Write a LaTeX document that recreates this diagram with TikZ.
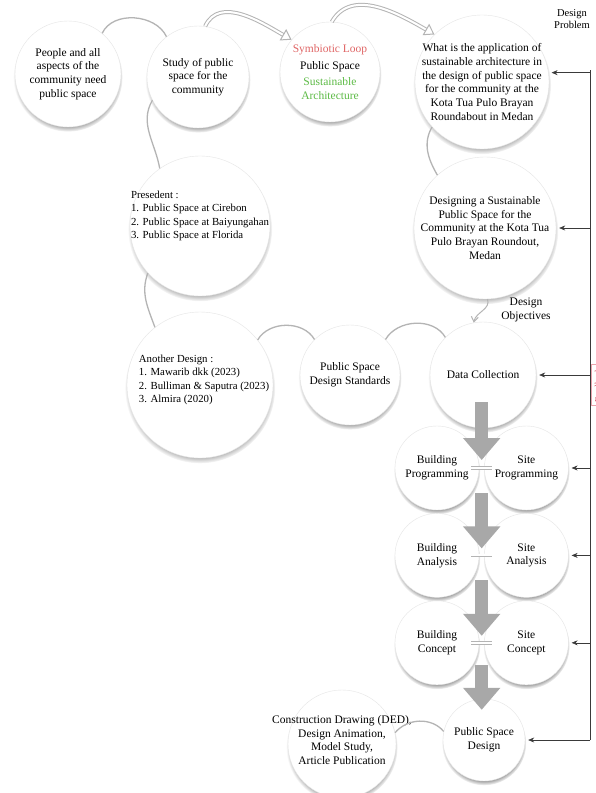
\documentclass[tikz,border=0pt]{standalone}
\usepackage{fontspec}
\setmainfont{Liberation Serif}
\usetikzlibrary{
  arrows.meta,
  positioning,
  shadows,
  calc
}
\definecolor{fpLoop}{HTML}{E06666}
\definecolor{fpSust}{HTML}{5DBB46}
\definecolor{fpArc}{HTML}{B4B4B4}
\definecolor{fpBlock}{HTML}{A8A8A8}
\definecolor{fpLine}{HTML}{3A3A3A}
\definecolor{fpBack}{HTML}{D44A5A}
\tikzset{
  bubble/.style={
    circle, draw=black!10, fill=white, inner sep=-4pt, align=center,
    font=\fontsize{11.5}{13.8}\selectfont,
    circular drop shadow={shadow xshift=0pt, shadow yshift=-3pt, shadow scale=1.03}
  },
  listtext/.style={align=left, font=\fontsize{10.8}{13.5}\selectfont, inner sep=0pt},
  tag/.style={align=center, font=\fontsize{11.5}{13.8}\selectfont, inner sep=0pt},
  arcline/.style={draw=fpArc, line width=1.3pt},
  looparrow/.style={draw=fpArc, double=white, double distance=2pt, line width=1pt,
    -{Triangle[open, length=10pt, width=13pt]}},
  objarrow/.style={draw=fpArc, line width=1pt, -{Straight Barb[length=5pt, width=7pt]}},
  blockarrow/.style={draw=fpBlock, line width=13pt, -{Triangle[length=22pt, width=36pt]}},
  pairlink/.style={draw=fpArc, double=white, double distance=2pt, line width=0.7pt},
  fbline/.style={draw=fpLine, line width=1pt},
  fbarrow/.style={draw=fpLine, line width=0.6pt, shorten >=3pt, -{Stealth[length=6pt, width=5pt]}}
}
\begin{document}
\begin{tikzpicture}[x=1pt, y=-1pt, node distance=5pt]
  \fill[white] (0,0) rectangle (596,793);
  \useasboundingbox (0,0) rectangle (596,793);

  \node[bubble, minimum size=106pt] (need) at (68,74) {People and all\\aspects of the\\community need\\public space};
  \node[bubble, minimum size=102pt] (study) at (198,77) {Study of public\\space for the\\community};
  \node[bubble, minimum size=100pt] (loop) at (330,72)
    {\textcolor{fpLoop}{Symbiotic Loop}\\[3pt]Public Space\\[3pt]\textcolor{fpSust}{Sustainable}\\\textcolor{fpSust}{Architecture}};
  \node[bubble, minimum size=134pt] (problem) at (482,82)
    {What is the application of\\sustainable architecture in\\the design of public space\\for the community at the\\Kota Tua Pulo Brayan\\Roundabout in Medan};
  \node[tag, font=\fontsize{10.5}{12.5}\selectfont] (dp) at (572,19) {Design\\Problem};

  \node[bubble, minimum size=140pt] (prec) at (200,226) {};
  \node[listtext] (preclist) at ([yshift=10pt]prec.center)
    {Presedent :\\1. Public Space at Cirebon\\2. Public Space at Baiyungahan\\3. Public Space at Florida};
  \node[bubble, minimum size=142pt] (design) at (485,228)
    {Designing a Sustainable\\Public Space for the\\Community at the Kota Tua\\Pulo Brayan Roundout,\\Medan};
  \node[tag] (obj) at (526,310) {Design\\Objectives};

  \node[bubble, minimum size=146pt] (other) at (200,385) {};
  \node[listtext] (otherlist) at ([xshift=4pt, yshift=5pt]other.center)
    {Another Design :\\1. Mawarib dkk (2023)\\2. Bulliman \& Saputra (2023)\\3. Almira (2020)};
  \node[bubble, minimum size=100pt] (std) at (350,375) {Public Space\\Design Standards};
  \node[bubble, minimum size=106pt] (data) at (483,375) {Data Collection};

  \node[bubble, minimum size=84pt] (bprog) at (437,468) {Building\\Programming};
  \node[bubble, minimum size=84pt, right=of bprog] (sprog) {Site\\Programming};
  \node[bubble, minimum size=84pt, below=3pt of bprog] (bana) {Building\\Analysis};
  \node[bubble, minimum size=84pt, below=3pt of sprog] (sana) {Site\\Analysis};
  \node[bubble, minimum size=84pt, below=3pt of bana] (bcon) {Building\\Concept};
  \node[bubble, minimum size=84pt, below=3pt of sana] (scon) {Site\\Concept};

  \node[bubble, minimum size=82pt] (psd) at (484,740) {Public Space\\Design};
  \node[bubble, minimum size=108pt] (out) at (342,744) {};
  \node[tag] (outtext) at ([yshift=4pt]out.center)
    {Construction Drawing (DED),\\Design Animation,\\Model Study,\\Article Publication};

  \draw[arcline] (need.50) to[out=65, in=115] (study.128);
  \draw[looparrow] (study.82) to[out=65, in=150] (loop.140);
  \draw[looparrow] (loop.88) to[out=60, in=150] (problem.135);
  \draw[arcline] (study.207) to[out=240, in=100] (prec.125);
  \draw[arcline] (prec.222) to[out=250, in=110] (other.128);
  \draw[arcline] (other.38) to[out=60, in=120] (std.135);
  \draw[arcline] (std.45) to[out=60, in=120] (data.135);
  \draw[arcline] (problem.222) to[out=240, in=120] (design.132);
  \draw[objarrow] (design.272) to[out=-70, in=80] (data.100);
  \draw[arcline] (out.12) to[out=50, in=130] (psd.168);

  \draw[pairlink] ([xshift=-8pt]bprog.east) -- ([xshift=8pt]sprog.west);
  \draw[pairlink] ([xshift=-8pt]bana.east) -- ([xshift=8pt]sana.west);
  \draw[pairlink] ([xshift=-8pt]bcon.east) -- ([xshift=8pt]scon.west);

  \coordinate (gp) at ($(bprog.east)!0.5!(sprog.west)$);
  \coordinate (ga) at ($(bana.east)!0.5!(sana.west)$);
  \coordinate (gc) at ($(bcon.east)!0.5!(scon.west)$);
  \draw[blockarrow] ([yshift=26pt]gp |- data.south) -- ([yshift=8pt]gp);
  \draw[blockarrow] ([yshift=-25pt]gp) -- ([yshift=7pt]ga);
  \draw[blockarrow] ([yshift=-25pt]ga) -- ([yshift=7pt]gc);
  \draw[blockarrow] ([yshift=-22pt]gc) -- ([yshift=-11pt]gc |- psd.north);

  \coordinate (fbtop) at (590,70);
  \coordinate (fbbot) at (590,740);
  \draw[fbline] (fbtop) -- (fbbot);
  \draw[fbarrow] (fbtop |- problem.8) -- (problem.8);
  \draw[fbarrow] (fbtop |- design.east) -- (design.east);
  \draw[fbarrow] (fbtop |- data.east) -- (data.east);
  \draw[fbarrow] (fbtop |- sprog.east) -- (sprog.east);
  \draw[fbarrow] (fbtop |- sana.east) -- (sana.east);
  \draw[fbarrow] (fbtop |- scon.east) -- (scon.east);
  \draw[fbarrow] (fbbot) -- (psd.east);
  \node[rotate=90, text=fpBack, draw=fpBack!50, font=\fontsize{9}{11}\selectfont] (fb) at (598,385) {Feedback};
\end{tikzpicture}
\end{document}
